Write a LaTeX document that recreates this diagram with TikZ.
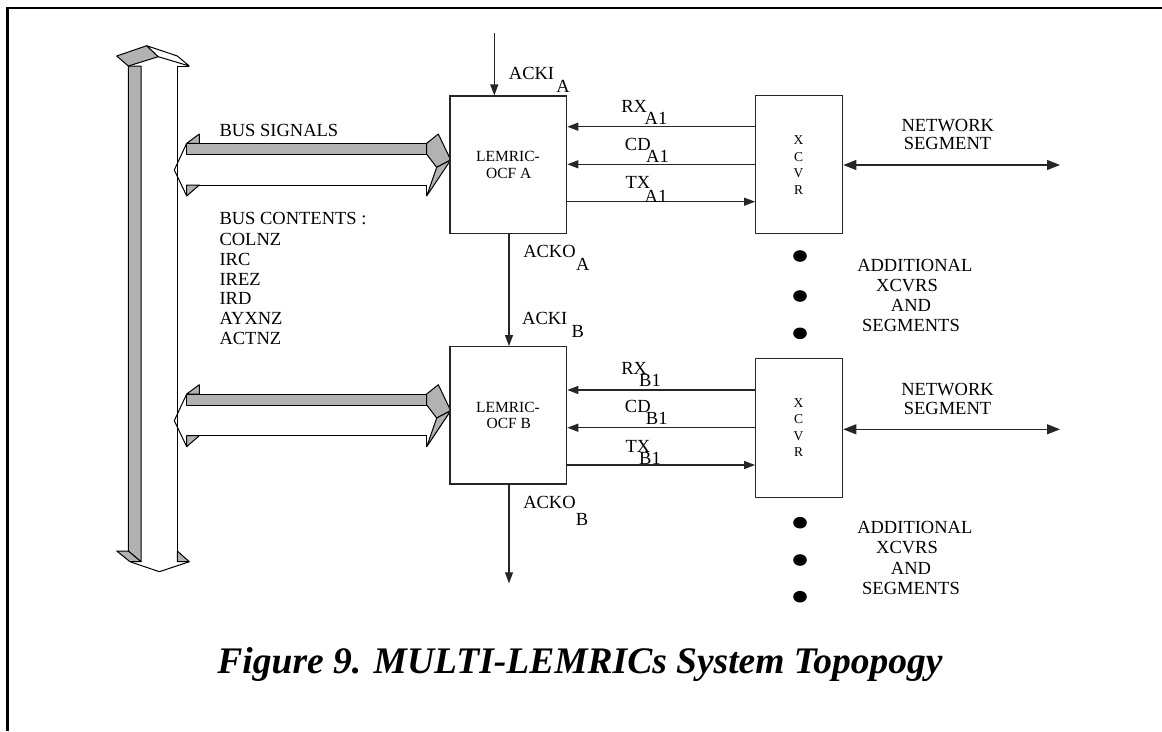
\documentclass[tikz,border=0pt]{standalone}
\usepackage{fontspec}
\setmainfont{Liberation Serif}
\usetikzlibrary{arrows.meta}
\begin{document}
\begin{tikzpicture}[x=1pt,y=-1pt,
  ln/.style={draw=black!85, line width=1.2pt},
  arr/.style={ln, -{Triangle[length=11pt,width=8pt]}},
  dbl/.style={ln, {Triangle[length=13pt,width=10pt]}-{Triangle[length=13pt,width=10pt]}},
  box/.style={ln, fill=white, inner sep=0pt, minimum width=116.7pt, minimum height=137.3pt},
  xbox/.style={ln, fill=white, inner sep=0pt, minimum width=87pt, minimum height=138.5pt},
  lbl/.style={inner sep=0pt, text height=12.2pt, text depth=0pt, font=\fontsize{18.5}{21}\selectfont},
  sm/.style={inner sep=0pt, text height=10.3pt, text depth=0pt, font=\fontsize{15.5}{18}\selectfont},
  xs/.style={inner sep=0pt, text height=9pt, text depth=0pt, font=\fontsize{13.5}{16}\selectfont},
  busg/.style={fill=black!30, draw=black, line width=1pt, line join=round},
  busw/.style={fill=white, draw=black, line width=1pt, line join=round},
  busl/.style={draw=black, line width=1pt, line join=round},
]
\useasboundingbox (0,0) rectangle (1162,731);
% frame
\draw[line width=2.5pt] (7.5,731) -- (7.5,8) -- (1162,8);

% vertical bus arrow
\fill[white] (141,66) rectangle (177.3,561.7);
\draw[busg] (128.3,66) -- (141,66) -- (141,561.7) -- (128.3,551) -- cycle;
\draw[busl] (177.3,66) -- (177.3,561.7);
\draw[busg] (116.7,56) -- (146.7,45.7) -- (158.3,56.7) -- (128.3,66) -- cycle;
\draw[busw] (146.7,45.7) -- (177.3,56) -- (189.3,66) -- (158.3,56.7) -- cycle;
\draw[busl] (189.3,66) -- (177.3,66);
\draw[busg] (116.7,551) -- (128.3,551) -- (141,561.7) -- (130,561.7) -- cycle;
\draw[busg] (177.3,551) -- (189.3,561.7) -- (177.3,561.7) -- cycle;
\draw[busl] (130,561.7) -- (159.3,571.7) -- (189.3,561.7);

% horizontal bus arrows
\foreach \dy in {0,250.7}{
\begin{scope}[shift={(0,\dy)}]
\fill[white] (186.7,154.3) rectangle (426.7,185);
\draw[busg] (186.7,143.3) rectangle (426.7,154.3);
\draw[busl] (186.7,185) -- (426.7,185);
\draw[busg] (186.7,143.3) -- (199.3,134) -- (199.3,143.3) -- cycle;
\draw[busl] (186.7,143.3) -- (174.3,170) -- (186.7,196);
\draw[busg] (186.7,196) -- (199.3,185) -- (186.7,185) -- cycle;
\draw[busg] (426.7,143.3) -- (438.3,134) -- (450.7,160) -- (436.7,167.3) -- (426.7,154.3) -- cycle;
\draw[busg] (436.7,167.3) -- (450.7,160) -- (426.7,196) -- cycle;
\draw[busl] (426.7,185) -- (426.7,196);
\end{scope}
}

% boxes
\node[box] (la) at (508.35,164.65) {};
\node[sm] (la1) at (508,156.7) {LEMRIC-};
\node[sm] (la2) at (508.8,173.3) {OCF A};
\node[box] (lb) at (508.35,415.35) {};
\node[sm] (lb1) at (508,407.7) {LEMRIC-};
\node[sm] (lb2) at (508.8,423.3) {OCF B};

\node[xbox] (xa) at (799.2,164.5) {};
\node[xbox] (xb) at (799.2,427.85) {};
\foreach \t/\yy [count=\i] in {X/140,C/156.7,V/173.3,R/190}
  \node[xs] (xat\i) at (798.5,\yy) {\t};
\foreach \t/\yy [count=\i] in {X/402.7,C/419,V/435.8,R/452.3}
  \node[xs] (xbt\i) at (798.5,\yy) {\t};

% coordinates
\coordinate (ackin) at (494.3,33.3);
\coordinate (ackoa) at (509,0);
\coordinate (ackout) at (509,583.3);
\coordinate (rxa) at (0,126.7);
\coordinate (cda) at (0,164.3);
\coordinate (txa) at (0,201.7);
\coordinate (rxb) at (0,390);
\coordinate (cdb) at (0,427.7);
\coordinate (txb) at (0,465);
\coordinate (neta) at (1060,165);
\coordinate (netb) at (1060,429.3);

% connectors
\draw[arr] (ackin) -- (ackin |- la.north);
\draw[arr] (la.south -| ackoa) -- (lb.north -| ackoa);
\draw[arr] (lb.south -| ackoa) -- (ackout);
\draw[arr] (xa.west |- rxa) -- (la.east |- rxa);
\draw[arr] (xa.west |- cda) -- (la.east |- cda);
\draw[arr] (la.east |- txa) -- (xa.west |- txa);
\draw[arr] (xb.west |- rxb) -- (lb.east |- rxb);
\draw[arr] (xb.west |- cdb) -- (lb.east |- cdb);
\draw[arr] (lb.east |- txb) -- (xb.west |- txb);
\draw[dbl] (xa.east |- neta) -- (neta);
\draw[dbl] (xb.east |- netb) -- (netb);

% labels
\node[lbl] (t1) at (531.5,73) {ACKI};
\node[lbl] (t1s) at (563,86) {A};
\node[lbl] (t2) at (634.2,106) {RX};
\node[lbl] (t2s) at (656,118.3) {A1};
\node[lbl] (t3) at (637.8,144) {CD};
\node[lbl] (t3s) at (657.5,156) {A1};
\node[lbl] (t4) at (638,182.7) {TX};
\node[lbl] (t4s) at (656,196.7) {A1};
\node[lbl] (t5) at (549.5,251.7) {ACKO};
\node[lbl] (t5s) at (582.7,264) {A};
\node[lbl] (t6) at (544.8,318.3) {ACKI};
\node[lbl] (t6s) at (577.7,331) {B};
\node[lbl] (t7) at (634.2,368.3) {RX};
\node[lbl] (t7s) at (650,380.7) {B1};
\node[lbl] (t8) at (637.8,406.7) {CD};
\node[lbl] (t8s) at (656.7,418.3) {B1};
\node[lbl] (t9) at (638,446) {TX};
\node[lbl] (t9s) at (650,458.3) {B1};
\node[lbl] (t10) at (549.5,502.7) {ACKO};
\node[lbl] (t10s) at (582,519.3) {B};

\node[lbl] (na1) at (947.8,125) {NETWORK};
\node[lbl] (na2) at (947.5,143.3) {SEGMENT};
\node[lbl] (nb1) at (947.5,389.3) {NETWORK};
\node[lbl] (nb2) at (947.5,408.3) {SEGMENT};

\node[lbl, anchor=west] (bs) at (219.3,130.7) {BUS SIGNALS};
\foreach \t/\yy [count=\i] in {BUS CONTENTS :/218.3,COLNZ/239.3,IRC/259.3,IREZ/279.3,IRD/298.3,AYXNZ/318.3,ACTNZ/338.3}
  \node[lbl, anchor=west] (bc\i) at (219.3,\yy) {\t};

\foreach \t/\xx/\yy [count=\i] in {ADDITIONAL/914.8/265,XCVRS/907/285,AND/911/305.7,SEGMENTS/911/325}
  \node[lbl] (ad\i) at (\xx,\yy) {\t};
\foreach \t/\xx/\yy [count=\i] in {ADDITIONAL/914.8/527.3,XCVRS/907/547.3,AND/911/568.3,SEGMENTS/911/588.3}
  \node[lbl] (ae\i) at (\xx,\yy) {\t};

\foreach \yy [count=\i] in {256,296,333.3,522.7,560,596.7}
  \fill (800,\yy) ellipse [x radius=6.8pt, y radius=5.8pt];

% title
\node[inner sep=0pt, font=\fontsize{37.5}{42}\selectfont\bfseries\itshape] (title) at (580,665) {Figure 9. MULTI-LEMRICs System Topopogy};
\end{tikzpicture}
\end{document}
